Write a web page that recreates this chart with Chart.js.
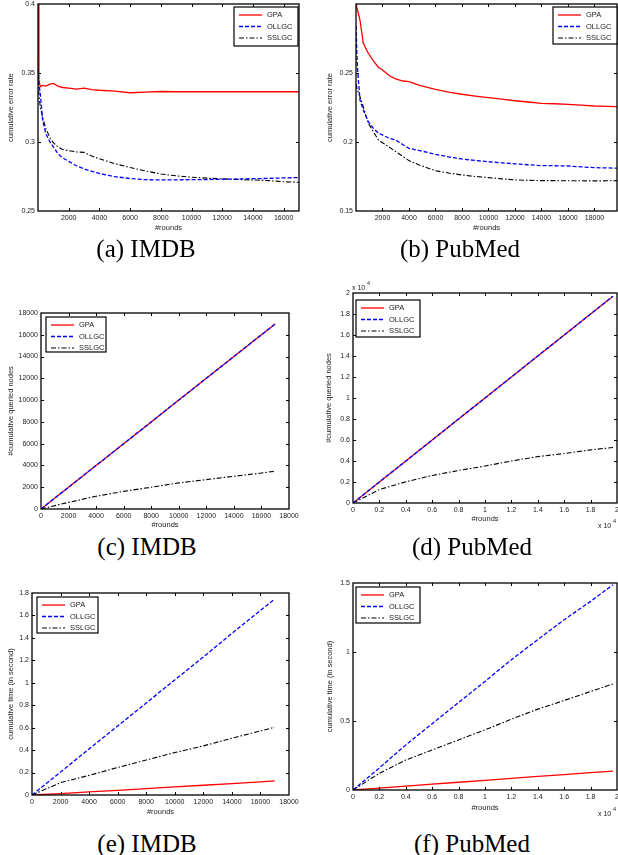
<!DOCTYPE html>
<html>
<head>
<meta charset="utf-8">
<script src="https://cdn.jsdelivr.net/npm/chart.js@4.4.0/dist/chart.umd.min.js"></script>
<style>
body { margin: 0; background: #fff; width: 618px; height: 855px; position: relative; overflow: hidden; }
canvas { position: absolute; }
.cap { position: absolute; font-family: 'Liberation Serif', serif; font-size: 25px; line-height: 1; color: #000; transform: translateX(-50%); white-space: nowrap; }
</style>
</head>
<body>
<canvas id="pa"></canvas>
<canvas id="pb"></canvas>
<canvas id="pc"></canvas>
<canvas id="pd"></canvas>
<canvas id="pe"></canvas>
<canvas id="pf"></canvas>
<div class="cap" style="left:146px;top:236px">(a) IMDB</div>
<div class="cap" style="left:460px;top:236px">(b) PubMed</div>
<div class="cap" style="left:147px;top:534px">(c) IMDB</div>
<div class="cap" style="left:472px;top:534px">(d) PubMed</div>
<div class="cap" style="left:147px;top:831px">(e) IMDB</div>
<div class="cap" style="left:472px;top:831px">(f) PubMed</div>
<script>
const seriesNames = ['GPA', 'OLLGC', 'SSLGC'];

// (a) IMDB - cumulative error rate
const roundsA = [0, 60, 150, 300, 500, 800, 1000, 1300, 1600, 2000, 2500, 3000, 3500, 4000, 5000, 6000, 7000, 8000, 9000, 10000, 11000, 12000, 13000, 14000, 15000, 16000, 17000];
const gpaA = [0.400, 0.345, 0.340, 0.341, 0.3405, 0.342, 0.3425, 0.3405, 0.3395, 0.3390, 0.3383, 0.3390, 0.3380, 0.3375, 0.3368, 0.3357, 0.3362, 0.3366, 0.3364, 0.3364, 0.3364, 0.3364, 0.3364, 0.3364, 0.3364, 0.3364, 0.3364];
const ollgcA = [0.353, 0.342, 0.335, 0.316, 0.3063, 0.2995, 0.2965, 0.2915, 0.2885, 0.2860, 0.2828, 0.2805, 0.2788, 0.2772, 0.2749, 0.2735, 0.2727, 0.2725, 0.2726, 0.2727, 0.2728, 0.2730, 0.2732, 0.2734, 0.2736, 0.2740, 0.2742];
const sslgcA = [0.345, 0.335, 0.325, 0.318, 0.310, 0.3025, 0.2995, 0.2965, 0.2945, 0.2938, 0.2928, 0.2925, 0.2898, 0.2878, 0.2843, 0.2815, 0.2790, 0.2768, 0.2755, 0.2745, 0.2738, 0.2733, 0.2728, 0.2725, 0.2720, 0.2712, 0.2708];
const xTicksA = [2000, 4000, 6000, 8000, 10000, 12000, 14000, 16000];
const yTicksA = [0.25, 0.3, 0.35, 0.4];

// (b) PubMed - cumulative error rate
const roundsB = [0, 100, 300, 550, 930, 1300, 1700, 2000, 2550, 3000, 3550, 4000, 4800, 6000, 7000, 8000, 9000, 10000, 11000, 12000, 13000, 14000, 15000, 16000, 17000, 18000, 19000, 19700];
const gpaB = [0.300, 0.296, 0.2884, 0.2715, 0.2643, 0.2590, 0.2540, 0.2522, 0.2478, 0.2458, 0.2442, 0.2437, 0.2410, 0.2382, 0.2362, 0.2346, 0.2333, 0.2321, 0.2310, 0.2299, 0.2290, 0.2280, 0.2277, 0.2273, 0.2267, 0.2261, 0.2258, 0.2256];
const ollgcB = [0.284, 0.255, 0.2304, 0.2232, 0.2147, 0.2100, 0.2063, 0.2051, 0.2025, 0.2014, 0.1980, 0.1954, 0.1938, 0.1911, 0.1892, 0.1877, 0.1866, 0.1857, 0.1849, 0.1842, 0.1835, 0.1829, 0.1828, 0.1826, 0.1820, 0.1814, 0.1812, 0.1810];
const sslgcB = [0.242, 0.238, 0.2328, 0.2256, 0.2135, 0.2075, 0.2014, 0.1995, 0.1960, 0.1930, 0.1895, 0.1865, 0.1832, 0.1792, 0.1775, 0.1761, 0.1750, 0.1742, 0.1733, 0.1725, 0.1722, 0.1720, 0.1720, 0.1719, 0.1719, 0.1718, 0.1719, 0.1720];
const xTicksB = [2000, 4000, 6000, 8000, 10000, 12000, 14000, 16000, 18000];
const yTicksB = [0.15, 0.2, 0.25];

// (c) IMDB - cumulative queried nodes
const roundsC = [0, 2000, 4000, 6000, 8000, 10000, 12000, 14000, 16000, 17000];
const gpaC = [0, 2000, 4000, 6000, 8000, 10000, 12000, 14000, 16000, 17000];
const ollgcC = [0, 2000, 4000, 6000, 8000, 10000, 12000, 14000, 16000, 17000];
const sslgcC = [0, 610, 1170, 1620, 2000, 2400, 2700, 3000, 3300, 3470];
const xTicksC = [0, 2000, 4000, 6000, 8000, 10000, 12000, 14000, 16000, 18000];
const yTicksC = [0, 2000, 4000, 6000, 8000, 10000, 12000, 14000, 16000, 18000];

// (d) PubMed - cumulative queried nodes
const roundsD = [0, 2000, 4000, 6000, 8000, 10000, 12000, 14000, 16000, 18000, 19700];
const gpaD = [0, 2000, 4000, 6000, 8000, 10000, 12000, 14000, 16000, 18000, 19700];
const ollgcD = [0, 2000, 4000, 6000, 8000, 10000, 12000, 14000, 16000, 18000, 19700];
const sslgcD = [0, 1280, 2020, 2620, 3100, 3520, 4000, 4420, 4710, 5060, 5290];
const xTicksD = [0, 2000, 4000, 6000, 8000, 10000, 12000, 14000, 16000, 18000, 20000];
const yTicksD = [0, 2000, 4000, 6000, 8000, 10000, 12000, 14000, 16000, 18000, 20000];

// (e) IMDB - cumulative time
const roundsE = [0, 2000, 4000, 6000, 8000, 10000, 12000, 14000, 16000, 17000];
const gpaE = [0, 0.012, 0.027, 0.042, 0.057, 0.072, 0.087, 0.102, 0.117, 0.125];
const ollgcE = [0, 0.205, 0.41, 0.615, 0.82, 1.025, 1.23, 1.44, 1.645, 1.747];
const sslgcE = [0, 0.11, 0.175, 0.245, 0.312, 0.378, 0.4375, 0.506, 0.571, 0.604];
const xTicksE = [0, 2000, 4000, 6000, 8000, 10000, 12000, 14000, 16000, 18000];
const yTicksE = [0, 0.2, 0.4, 0.6, 0.8, 1, 1.2, 1.4, 1.6, 1.8];

// (f) PubMed - cumulative time
const roundsF = [0, 2000, 4000, 6000, 8000, 10000, 12000, 14000, 16000, 18000, 19700];
const gpaF = [0, 0.014, 0.028, 0.042, 0.056, 0.07, 0.084, 0.098, 0.112, 0.126, 0.137];
const ollgcF = [0, 0.16, 0.327, 0.48, 0.635, 0.787, 0.944, 1.09, 1.234, 1.367, 1.488];
const sslgcF = [0, 0.121, 0.218, 0.29, 0.363, 0.436, 0.513, 0.586, 0.649, 0.714, 0.769];
const xTicksF = [0, 2000, 4000, 6000, 8000, 10000, 12000, 14000, 16000, 18000, 20000];
const yTicksF = [0, 0.5, 1, 1.5];

const lineColors = ['#ff0000', '#0000ff', '#000000'];
const lineWidths = [1.3, 1.3, 1.1];
const lineDashes = [[], [4, 2], [5, 2, 1.5, 2]];
const lineOrder = [1, 0, 0]; // blue dashes sit on top of the red line

const smallFont = { family: "'Liberation Sans', Arial, sans-serif", size: 7 };
const titleFont = { family: "'Liberation Sans', Arial, sans-serif", size: 7.5, lineHeight: 1.2 };

const fmt = v => String(+v.toFixed(4));
const fmt4 = v => String(+(v / 10000).toFixed(4));

// matlab-like frame: box, inward ticks, boxed legend, exponent labels
const matlabFrame = {
    id: 'matlabFrame',
    afterDatasetsDraw(chart, args, opts) {
        const ctx = chart.ctx;
        const a = chart.chartArea;
        const xs = chart.scales.x, ys = chart.scales.y;
        ctx.save();
        ctx.strokeStyle = '#000';
        ctx.lineWidth = 1;
        ctx.setLineDash([]);
        const tl = 3;
        xs.ticks.forEach(t => {
            if (t.value <= xs.min || t.value >= xs.max) return;
            const px = Math.round(xs.getPixelForValue(t.value)) + 0.5;
            ctx.beginPath();
            ctx.moveTo(px, a.bottom); ctx.lineTo(px, a.bottom - tl);
            ctx.moveTo(px, a.top); ctx.lineTo(px, a.top + tl);
            ctx.stroke();
        });
        ys.ticks.forEach(t => {
            if (t.value <= ys.min || t.value >= ys.max) return;
            const py = Math.round(ys.getPixelForValue(t.value)) + 0.5;
            ctx.beginPath();
            ctx.moveTo(a.left, py); ctx.lineTo(a.left + tl, py);
            ctx.moveTo(a.right, py); ctx.lineTo(a.right - tl, py);
            ctx.stroke();
        });
        ctx.lineWidth = 1.3;
        ctx.strokeRect(a.left, a.top, a.right - a.left, a.bottom - a.top);

        // legend
        const lg = opts.legend;
        ctx.fillStyle = '#fff';
        ctx.fillRect(lg.x, lg.y, lg.w, lg.h);
        ctx.lineWidth = 1.2;
        ctx.strokeRect(lg.x, lg.y, lg.w, lg.h);
        const rows = [8, 19.5, 31];
        ctx.font = "7.5px 'Liberation Sans', Arial, sans-serif";
        ctx.textBaseline = 'middle';
        ctx.textAlign = 'left';
        chart.data.datasets.forEach((ds, i) => {
            const yy = lg.y + rows[i];
            ctx.strokeStyle = ds.borderColor;
            ctx.lineWidth = ds.borderWidth;
            ctx.setLineDash(ds.borderDash || []);
            ctx.beginPath();
            ctx.moveTo(lg.x + 5, yy); ctx.lineTo(lg.x + 28, yy);
            ctx.stroke();
            ctx.setLineDash([]);
            ctx.fillStyle = '#222';
            ctx.fillText(ds.label, lg.x + 33, yy);
        });

        // "x 10^4" multipliers
        (opts.exps || []).forEach(e => {
            ctx.fillStyle = '#222';
            ctx.font = "7px 'Liberation Sans', Arial, sans-serif";
            ctx.textBaseline = 'alphabetic';
            ctx.fillText('x 10', e.x, e.y);
            ctx.font = "5.5px 'Liberation Sans', Arial, sans-serif";
            ctx.fillText('4', e.x + 15, e.y - 5);
        });
        ctx.restore();
    }
};

function makePanel(id, p) {
    const cv = document.getElementById(id);
    const [cl, ct, cw, ch] = p.canvas;
    cv.style.left = cl + 'px';
    cv.style.top = ct + 'px';
    cv.width = cw;
    cv.height = ch;
    const [L, T, R, B] = p.area;
    const yW = L - cl, xH = ct + ch - B;

    new Chart(cv, {
        type: 'line',
        data: {
            datasets: p.series.map((ys, i) => ({
                label: seriesNames[i],
                data: p.xs.map((x, j) => ({ x: x, y: ys[j] })),
                borderColor: lineColors[i],
                borderWidth: lineWidths[i],
                borderDash: lineDashes[i],
                pointRadius: 0,
                tension: 0,
                fill: false,
                order: lineOrder[i]
            }))
        },
        options: {
            responsive: false,
            animation: false,
            events: [],
            layout: { padding: { top: T - ct, right: cl + cw - R, left: 0, bottom: 0 } },
            plugins: {
                legend: { display: false },
                tooltip: { enabled: false },
                matlabFrame: {
                    legend: { x: p.legend[0] - cl, y: p.legend[1] - ct, w: p.legend[2], h: p.legend[3] },
                    exps: (p.exps || []).map(e => ({ x: e[0] - cl, y: e[1] - ct }))
                }
            },
            scales: {
                x: {
                    type: 'linear',
                    min: p.xRange[0],
                    max: p.xRange[1],
                    afterBuildTicks: s => { s.ticks = p.xTicks.map(v => ({ value: v })); },
                    afterFit: s => { s.height = xH; s.paddingLeft = 0; s.paddingRight = 0; },
                    grid: { display: false, drawTicks: false },
                    border: { display: false },
                    ticks: {
                        autoSkip: false, maxRotation: 0, padding: 3,
                        color: '#222', font: smallFont,
                        callback: p.xFmt
                    },
                    title: {
                        display: true, text: '#rounds', color: '#222', font: titleFont,
                        padding: { top: 0, bottom: p.xTitlePad }
                    }
                },
                y: {
                    type: 'linear',
                    min: p.yRange[0],
                    max: p.yRange[1],
                    afterBuildTicks: s => { s.ticks = p.yTicks.map(v => ({ value: v })); },
                    afterFit: s => { s.width = yW; s.paddingTop = 0; s.paddingBottom = 0; },
                    grid: { display: false, drawTicks: false },
                    border: { display: false },
                    ticks: {
                        autoSkip: false, padding: 3,
                        color: '#222', font: smallFont,
                        callback: p.yFmt
                    },
                    title: {
                        display: true, text: p.yTitle, color: '#222', font: titleFont,
                        padding: { top: p.yTitlePad, bottom: 0 }
                    }
                }
            }
        },
        plugins: [matlabFrame]
    });
}

makePanel('pa', {
    canvas: [0, 0, 305, 236], area: [38, 4, 299, 211],
    xs: roundsA, series: [gpaA, ollgcA, sslgcA],
    xRange: [0, 17000], yRange: [0.25, 0.4],
    xTicks: xTicksA, yTicks: yTicksA, xFmt: fmt, yFmt: fmt,
    yTitle: 'cumulative error rate', yTitlePad: 6.5, xTitlePad: 3.5,
    legend: [234, 7, 64, 39]
});

makePanel('pb', {
    canvas: [310, 0, 308, 236], area: [356, 4, 617, 211],
    xs: roundsB, series: [gpaB, ollgcB, sslgcB],
    xRange: [0, 19700], yRange: [0.15, 0.3],
    xTicks: xTicksB, yTicks: yTicksB, xFmt: fmt, yFmt: fmt,
    yTitle: 'cumulative error rate', yTitlePad: 15.5, xTitlePad: 3.5,
    legend: [553, 7, 64, 37]
});

makePanel('pc', {
    canvas: [0, 290, 305, 240], area: [41, 313, 289, 509],
    xs: roundsC, series: [gpaC, ollgcC, sslgcC],
    xRange: [0, 18000], yRange: [0, 18000],
    xTicks: xTicksC, yTicks: yTicksC, xFmt: fmt, yFmt: fmt,
    yTitle: '#cumulative queried nodes', yTitlePad: 6.5, xTitlePad: 0.5,
    legend: [46, 317, 60, 35]
});

makePanel('pd', {
    canvas: [310, 270, 308, 260], area: [353, 293, 617, 503],
    xs: roundsD, series: [gpaD, ollgcD, sslgcD],
    xRange: [0, 20000], yRange: [0, 20000],
    xTicks: xTicksD, yTicks: yTicksD, xFmt: fmt4, yFmt: fmt4,
    yTitle: '#cumulative queried nodes', yTitlePad: 14.5, xTitlePad: 6.5,
    legend: [356, 300, 64, 37],
    exps: [[352, 290], [598, 528]]
});

makePanel('pe', {
    canvas: [0, 570, 305, 250], area: [32, 593, 289, 795],
    xs: roundsE, series: [gpaE, ollgcE, sslgcE],
    xRange: [0, 18000], yRange: [0, 1.8],
    xTicks: xTicksE, yTicks: yTicksE, xFmt: fmt, yFmt: fmt,
    yTitle: 'cumulative time (in second)', yTitlePad: 6, xTitlePad: 3.5,
    legend: [37, 597, 61, 36]
});

makePanel('pf', {
    canvas: [310, 560, 308, 260], area: [353, 583, 617, 790],
    xs: roundsF, series: [gpaF, ollgcF, sslgcF],
    xRange: [0, 20000], yRange: [0, 1.5],
    xTicks: xTicksF, yTicks: yTicksF, xFmt: fmt4, yFmt: fmt,
    yTitle: 'cumulative time (in second)', yTitlePad: 15.5, xTitlePad: 7.5,
    legend: [356, 587, 64, 36],
    exps: [[598, 816]]
});
</script>
</body>
</html>
